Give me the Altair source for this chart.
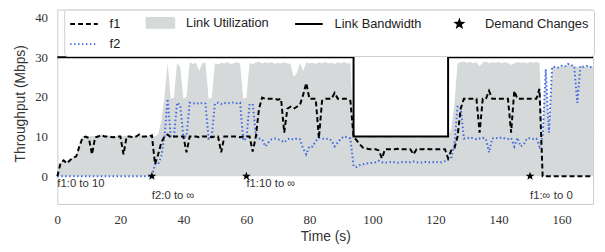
import math
import altair as alt
import pandas as pd

# ---------------- data ----------------
t = list(range(171))

f1 = [
    0, 3.2, 4.0, 3.2, 4.0, 4.6, 5.0, 7.5, 9.7, 10.0,
    9.6, 5.5, 9.8, 10.0, 10.4, 10.0, 10.0, 9.9, 9.8, 10.0,
    10.0, 5.5, 10.0, 10.0, 9.8, 10.0, 10.5, 10.0, 10.0, 10.0,
    10.3, 3.0, 5.5, 8.5, 10.0, 10.5, 9.8, 10.0, 10.0, 10.0,
    10.0, 6.0, 10.0, 10.0, 10.0, 9.8, 10.0, 10.0, 10.0, 9.8,
    10.0, 10.0, 6.0, 10.0, 10.0, 10.0, 10.0, 10.0, 9.8, 10.0,
    10.0, 10.0, 6.2, 10.0, 17.0, 19.8, 19.5, 19.5, 19.5, 19.5,
    19.3, 19.5, 11.0, 17.0, 17.5, 17.0, 17.5, 18.0, 20.5, 23.5,
    19.5, 19.5, 19.5, 9.5, 19.0, 19.5, 19.5, 19.5, 21.0, 19.5,
    19.5, 19.5, 19.5, 19.0, 10.0, 9.0, 8.0, 7.2, 7.0, 6.8,
    6.8, 6.8, 6.5, 4.5, 6.8, 6.8, 6.8, 6.8, 6.9, 6.8,
    6.8, 6.8, 6.8, 5.5, 6.8, 6.8, 6.8, 6.9, 6.8, 6.8,
    6.8, 6.8, 6.8, 6.8, 4.5, 6.5, 7.0, 10.0, 17.0, 19.5,
    19.5, 19.5, 19.5, 19.5, 11.0, 19.5, 19.5, 21.5, 19.5, 19.5,
    19.5, 19.5, 19.5, 19.5, 11.0, 21.5, 19.5, 19.5, 19.5, 19.5,
    19.5, 19.5, 19.5, 22.0, 0, 0, 0, 0, 0, 0,
    0, 0, 0, 0, 0, 0, 0, 0, 0, 0,
    0,
]

f2 = [
    0, 0, 0, 0, 0, 0, 0, 0, 0, 0,
    0, 0, 0, 0, 0, 0, 0, 0, 0, 0,
    0, 0, 0, 0, 0, 0, 0, 0, 0, 0,
    0, 3.0, 3.0, 5.0, 10.0, 19.5, 10.0, 10.0, 18.5, 18.0,
    10.0, 10.0, 18.5, 18.3, 18.5, 18.2, 18.5, 18.3, 9.5, 10.0,
    18.3, 18.5, 18.2, 18.5, 18.3, 18.5, 18.6, 18.4, 18.5, 9.0,
    9.5, 18.0, 18.2, 10.5, 9.5, 9.3, 7.5, 8.5, 9.3, 9.5,
    9.3, 9.0, 8.5, 9.3, 9.5, 9.2, 9.5, 9.3, 7.0, 5.5,
    7.5, 7.5, 8.8, 9.7, 9.5, 9.3, 9.5, 9.0, 7.5, 8.5,
    9.5, 10.0, 9.8, 9.5, 2.5, 2.3, 2.8, 3.0, 3.2, 3.3,
    3.4, 3.5, 3.9, 3.5, 3.4, 3.5, 3.6, 3.5, 3.4, 3.5,
    3.6, 3.5, 3.5, 3.7, 3.5, 3.4, 3.5, 3.6, 3.5, 3.5,
    3.6, 3.5, 3.5, 3.8, 4.2, 4.5, 8.0, 17.5, 17.5, 9.5,
    9.5, 9.8, 9.5, 9.3, 9.5, 9.7, 9.4, 6.0, 9.5, 9.7,
    9.5, 9.8, 9.5, 9.4, 9.6, 7.5, 9.7, 7.5, 8.0, 9.5,
    9.6, 9.4, 9.5, 7.5, 10.0, 27.0, 11.0, 27.5, 27.6, 27.4,
    27.8, 27.6, 28.3, 28.0, 27.8, 18.5, 27.8, 27.6, 27.8, 27.5,
    27.6,
]

util = [
    3.0, 3.5, 4.2, 3.5, 4.2, 4.8, 5.2, 7.8, 10.0, 10.2,
    10.0, 10.1, 10.2, 10.2, 10.5, 10.2, 10.1, 10.2, 10.0, 10.2,
    10.2, 10.1, 10.2, 10.2, 10.0, 10.2, 10.6, 10.2, 10.1, 10.2,
    10.4, 10.0, 10.5, 14.0, 20.0, 28.5, 19.5, 19.8, 28.5, 27.5,
    19.5, 20.0, 28.8, 28.3, 28.6, 26.5, 28.4, 28.7, 19.5, 19.8,
    28.5, 28.2, 28.6, 28.4, 28.8, 28.3, 28.5, 28.7, 28.4, 19.5,
    19.8, 28.5, 28.3, 28.6, 28.9, 28.4, 28.7, 28.5, 28.8, 28.3,
    28.6, 28.4, 28.7, 28.5, 28.3, 25.0, 26.0, 28.5, 26.5, 28.7,
    28.4, 28.6, 28.3, 28.7, 28.5, 28.8, 28.4, 28.6, 28.3, 28.7,
    28.5, 28.8, 28.4, 28.5, 10.0, 9.8, 9.9, 9.8, 9.7, 9.9,
    9.8, 9.9, 9.7, 9.8, 10.1, 9.8, 9.9, 9.8, 9.7, 9.9,
    9.8, 10.2, 9.8, 9.9, 9.7, 9.8, 9.9, 9.8, 10.1, 9.8,
    9.9, 9.8, 9.7, 9.9, 9.9, 12.0, 18.0, 28.5, 28.7, 28.9,
    28.6, 28.8, 28.5, 28.7, 27.8, 28.6, 28.9, 28.5, 28.7, 28.6,
    28.8, 28.5, 28.7, 28.6, 28.0, 28.5, 28.8, 28.6, 28.7, 28.5,
    28.8, 28.6, 28.7, 28.6, 10.0, 27.0, 12.0, 27.5, 27.6, 27.4,
    27.8, 27.6, 28.3, 28.0, 27.8, 27.6, 27.8, 27.6, 27.8, 27.5,
    27.6,
]

bw_t = [0, 94, 94, 124, 124, 170]
bw_v = [30, 30, 10, 10, 30, 30]

star_t = [30, 60, 150]
star_v = [0, 0, 0]

ann_text = ["f1:0 to 10", "f2:0 to \u221e", "f1:10 to \u221e", "f1:\u221e to 0"]
ann_t = [0, 30, 60, 150]
ann_y = [-2.0, -5.0, -2.0, -5.0]

legend_names = ["f1", "Link Utilization", "Link Bandwidth", "Demand Changes", "f2"]
x_ticks = [0, 20, 40, 60, 80, 100, 120, 140, 160]
y_ticks = [0, 10, 20, 30, 40]

# ---------------- styles ----------------
GREY = "#d5d9d9"
BLUE = "#4169e1"
SERIF = "Liberation Serif"
SANS = "Liberation Sans"


def star_path(r_out, r_in, cx=0.0):
    pts = []
    for k in range(10):
        r = r_out if k % 2 == 0 else r_in
        a = math.radians(-90 + 36 * k)
        pts.append(f"{cx + r * math.cos(a):.3f},{r * math.sin(a):.3f}")
    return "M" + "L".join(pts) + "Z"


STAR = star_path(1.0, 0.42)
# legend symbols: size 196 -> 7px per path unit, entry-left at -1 unit
STAR_LEG = star_path(0.5, 0.21, cx=1.0)
RECT_LEG = "M-1,-0.72H3V0.72H-1Z"
LINE_LEG = "M-1,0H3"

df_f1 = pd.DataFrame({"t": t, "v": f1})
df_f2 = pd.DataFrame({"t": t, "v": f2})
df_u = pd.DataFrame({"t": t, "v": util})
df_bw = pd.DataFrame({"t": bw_t, "v": bw_v, "i": list(range(len(bw_t)))})
df_star = pd.DataFrame({"t": star_t, "v": star_v})
df_ann = pd.DataFrame({"t": ann_t, "v": ann_y, "label": ann_text})
df_leg = pd.DataFrame({"series": legend_names})

X = alt.X(
    "t:Q",
    scale=alt.Scale(domain=[0, 170], nice=False, zero=False),
    axis=alt.Axis(
        values=x_ticks, title="Time (s)", grid=False, ticks=False, domain=False,
        labelFont=SERIF, labelFontSize=13, labelPadding=10, labelFlush=False,
        titleFont=SANS, titleFontSize=14, titleFontWeight="normal", titlePadding=3,
    ),
)
Y = alt.Y(
    "v:Q",
    scale=alt.Scale(domain=[-7, 42], nice=False, zero=False),
    axis=alt.Axis(
        values=y_ticks, title="Throughput (Mbps)", grid=False, ticks=False, domain=False,
        labelFont=SERIF, labelFontSize=13, labelPadding=10, labelFlush=False,
        titleFont=SANS, titleFontSize=14, titleFontWeight="normal",
        titleX=-33, titleY=95, titleAngle=270, titleBaseline="alphabetic",
    ),
)

area = alt.Chart(df_u).mark_area(color=GREY, opacity=1, interpolate="linear").encode(
    x=X, y=Y, y2=alt.datum(0)
)
bw = alt.Chart(df_bw).mark_line(color="black", strokeWidth=2).encode(
    x=X, y=Y, order=alt.Order("i:Q")
)
l2 = alt.Chart(df_f2).mark_line(color=BLUE, strokeWidth=2, strokeDash=[1.5, 2.5]).encode(x=X, y=Y)
l1 = alt.Chart(df_f1).mark_line(color="black", strokeWidth=2, strokeDash=[5, 3]).encode(x=X, y=Y)
stars = alt.Chart(df_star).mark_point(shape=STAR, filled=True, color="black", size=85, opacity=1).encode(
    x=X, y=Y
)
ann = alt.Chart(df_ann).mark_text(
    align="left", baseline="middle", font=SANS, fontSize=11.5, color="#333"
).encode(x=X, y=Y, text="label:N")

leg = alt.Legend(
    title=None, orient="none", legendX=7, legendY=0, columns=4, direction="horizontal",
    symbolSize=196, symbolStrokeWidth=2, symbolOpacity=1,
    labelFont=SANS, labelFontSize=13, labelColor="#222", labelOffset=25,
    columnPadding=22.5, rowPadding=4, padding=5,
    strokeColor="#cccccc", fillColor="white", cornerRadius=3,
)
legend_layer = alt.Chart(df_leg).mark_point(opacity=0, size=1).encode(
    shape=alt.Shape("series:N", scale=alt.Scale(domain=legend_names,
                    range=[LINE_LEG, RECT_LEG, LINE_LEG, STAR_LEG, LINE_LEG]), legend=leg),
    fill=alt.Fill("series:N", scale=alt.Scale(domain=legend_names,
                  range=["transparent", GREY, "transparent", "black", "transparent"]), legend=leg),
    stroke=alt.Stroke("series:N", scale=alt.Scale(domain=legend_names,
                      range=["black", GREY, "black", "black", BLUE]), legend=leg),
    strokeDash=alt.StrokeDash("series:N", scale=alt.Scale(domain=legend_names,
                              range=[[5, 3], [1, 0], [1, 0], [1, 0], [1.5, 2.5]]), legend=leg),
)

chart = (
    alt.layer(area, bw, l2, l1, stars, ann, legend_layer)
    .properties(
        width=543, height=197,
        autosize=alt.AutoSizeParams(type="none"),
        padding={"left": 50, "top": 0, "right": 4, "bottom": 40},
    )
    .configure_view(stroke="#cccccc", strokeWidth=1)
    .configure_axis(labelColor="#333", titleColor="#333")
)

chart.save("out.html", embed_options={"renderer": "svg", "actions": False})
